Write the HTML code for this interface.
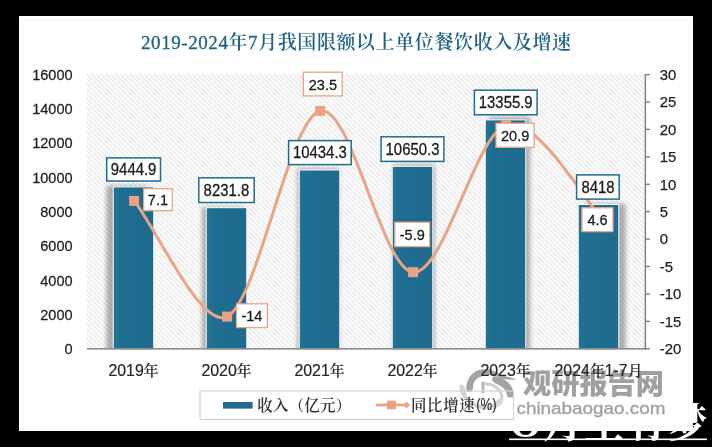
<!DOCTYPE html>
<html lang="zh-CN"><head><meta charset="utf-8"><title>2019-2024年7月我国限额以上单位餐饮收入及增速</title>
<style>html,body{margin:0;padding:0;background:#000;overflow:hidden}svg{display:block}text{font-family:"Liberation Sans","Noto Sans CJK SC",sans-serif}.ser{font-family:"Liberation Serif","Noto Serif CJK SC",serif}</style></head><body>
<svg width="712" height="447" viewBox="0 0 712 447">
<defs>
<pattern id="hatch" width="4.8" height="4.8" patternUnits="userSpaceOnUse" x="87" y="74.5"><rect width="4.8" height="4.8" fill="#ffffff"/><path d="M-1.2,-1.2 L6,6 M-1.2,3.6 L1.2,6 M3.6,-1.2 L6,1.2" stroke="#e0e0e0" stroke-width="1.1" fill="none"/></pattern>
<filter id="blur" x="-10%" y="-10%" width="120%" height="120%"><feGaussianBlur stdDeviation="2"/></filter>
<linearGradient id="bg" x1="0" y1="0" x2="1" y2="0"><stop offset="0" stop-color="#1f7596"/><stop offset="0.2" stop-color="#1f6d92"/><stop offset="1" stop-color="#1f6a8f"/></linearGradient>
<clipPath id="shclip"><rect x="80" y="60" width="570" height="286"/></clipPath>
<clipPath id="plotclip"><rect x="87.0" y="64.6" width="558.0" height="284.2"/></clipPath>
</defs>
<rect width="712" height="447" fill="#000"/>
<text class="ser" x="510" y="437.2" font-size="40" letter-spacing="1.6" fill="#fff" font-weight="700">O月至有梦</text>
<rect x="509" y="438.5" width="198" height="1.6" fill="#fff"/>
<rect x="19" y="16" width="674" height="415" fill="#fff"/>
<rect x="23.5" y="20.5" width="665" height="406" fill="none" stroke="#f6f6f6" stroke-width="1"/>
<g id="wm">
<path d="M466.7,391.0 C465.9,389.6 466.4,385.5 467.1,382.9 C467.7,380.3 468.9,377.7 470.7,375.6 C472.4,373.6 474.8,371.7 477.4,370.6 C480.0,369.5 483.3,369.1 486.3,369.3 C489.3,369.4 492.1,370.6 495.3,371.7 C498.4,372.9 501.9,374.9 505.3,376.2 C508.8,377.5 516.1,378.8 516.0,379.3 C515.8,379.8 507.3,379.8 504.2,379.3 C501.1,378.8 499.7,377.1 497.5,376.4 C495.3,375.7 493.2,375.4 490.8,375.3 C488.4,375.2 485.3,375.3 483.0,376.0 C480.6,376.6 478.4,377.6 476.8,379.0 C475.2,380.3 474.3,382.0 473.5,384.0 C472.7,386.0 473.1,389.8 472.0,391.0 C470.9,392.1 467.6,392.3 466.7,391.0 Z" fill="#a4a4a4"/>
<path d="M493.6,376.4 C495.1,375.9 499.4,377.2 502.0,378.4 C504.6,379.6 507.4,381.4 509.3,383.5 C511.1,385.5 512.6,388.5 513.2,390.7 C513.7,393.0 513.5,395.9 512.6,396.9 C511.7,397.9 508.7,397.8 507.6,396.9 C506.5,395.9 506.9,393.0 505.9,391.3 C504.9,389.6 503.6,388.1 501.4,386.5 C499.3,384.8 494.3,383.1 493.0,381.4 C491.7,379.8 492.1,376.9 493.6,376.4 Z" fill="#a4a4a4"/>
<rect x="481.5" y="381.8" width="2.9" height="11.2" fill="#b4b4b4"/>
<path d="M484.4,383.5 C485.7,383.7 489.5,383.8 491.9,384.9 C494.4,386.0 497.5,388.1 499.2,390.2 C500.9,392.3 501.9,395.1 502.0,397.4 C502.1,399.8 500.1,403.0 499.7,404.1" fill="none" stroke="#d0d0cc" stroke-width="3"/>
<path d="M459.3,385.7 C458.9,387.3 460.2,392.3 461.7,395.2 C463.2,398.1 465.8,400.9 468.4,403.0 C471.0,405.2 474.0,406.9 477.4,408.1 C480.7,409.2 485.2,409.9 488.6,409.7 C491.9,409.6 495.2,408.3 497.5,406.9 C499.8,405.6 502.2,403.3 502.5,401.9 C502.9,400.5 501.5,398.2 499.7,398.6 C498.0,398.9 494.7,403.0 491.9,404.1 C489.1,405.3 485.9,405.6 483.0,405.3 C480.0,404.9 476.6,403.6 474.0,401.9 C471.4,400.2 469.0,397.9 467.3,395.2 C465.6,392.5 465.3,387.3 463.9,385.7 C462.6,384.1 459.6,384.1 459.3,385.7 Z" fill="#d6d6d0"/>
<text x="523" y="394.2" font-size="28.2" font-weight="900" fill="#a0a0a0" font-family="'Noto Sans CJK SC',sans-serif">观研报告网</text>
<text x="516.5" y="414" font-size="17" fill="#a0a0a0" stroke="#a0a0a0" stroke-width="0.3" font-family="'DejaVu Sans',sans-serif" textLength="149" lengthAdjust="spacingAndGlyphs">chinabaogao.com</text>
</g>
<text class="ser" x="356" y="48.6" font-size="19" font-weight="600" fill="#1f6384" text-anchor="middle" textLength="430" lengthAdjust="spacing"><tspan font-weight="400" stroke="#1f6384" stroke-width="0.3">2019-2024</tspan>年<tspan font-weight="400" stroke="#1f6384" stroke-width="0.3">7</tspan>月我国限额以上单位餐饮收入及增速</text>
<rect x="86.5" y="73.8" width="558.0" height="275.0" fill="url(#hatch)"/>
<g filter="url(#blur)" opacity="0.3" transform="translate(366,236) scale(1.027,1.025) translate(-366,-236)" clip-path="url(#shclip)">
<rect x="113.2" y="186.9" width="40.6" height="161.9" fill="#000"/>
<rect x="206.2" y="207.7" width="40.6" height="141.1" fill="#000"/>
<rect x="299.2" y="170.0" width="40.6" height="178.8" fill="#000"/>
<rect x="392.2" y="166.3" width="40.6" height="182.5" fill="#000"/>
<rect x="485.2" y="119.9" width="40.6" height="228.9" fill="#000"/>
<rect x="578.2" y="204.5" width="40.6" height="144.3" fill="#000"/>
</g>
<rect x="113.2" y="186.9" width="40.6" height="162.9" fill="url(#bg)" stroke="#fff" stroke-width="1"/>
<rect x="206.2" y="207.7" width="40.6" height="142.1" fill="url(#bg)" stroke="#fff" stroke-width="1"/>
<rect x="299.2" y="170.0" width="40.6" height="179.8" fill="url(#bg)" stroke="#fff" stroke-width="1"/>
<rect x="392.2" y="166.3" width="40.6" height="183.5" fill="url(#bg)" stroke="#fff" stroke-width="1"/>
<rect x="485.2" y="119.9" width="40.6" height="229.9" fill="url(#bg)" stroke="#fff" stroke-width="1"/>
<rect x="578.2" y="204.5" width="40.6" height="145.3" fill="url(#bg)" stroke="#fff" stroke-width="1"/>
<rect x="87.0" y="348.0" width="558.0" height="1.6" fill="#8c8c8c"/>
<rect x="644.6" y="73.9" width="1.5" height="275.6" fill="#7f7f7f"/>
<rect x="645.0" y="73.9" width="5" height="1.4" fill="#7f7f7f"/>
<rect x="645.0" y="101.3" width="5" height="1.4" fill="#7f7f7f"/>
<rect x="645.0" y="128.7" width="5" height="1.4" fill="#7f7f7f"/>
<rect x="645.0" y="156.2" width="5" height="1.4" fill="#7f7f7f"/>
<rect x="645.0" y="183.6" width="5" height="1.4" fill="#7f7f7f"/>
<rect x="645.0" y="211.0" width="5" height="1.4" fill="#7f7f7f"/>
<rect x="645.0" y="238.4" width="5" height="1.4" fill="#7f7f7f"/>
<rect x="645.0" y="265.8" width="5" height="1.4" fill="#7f7f7f"/>
<rect x="645.0" y="293.3" width="5" height="1.4" fill="#7f7f7f"/>
<rect x="645.0" y="320.7" width="5" height="1.4" fill="#7f7f7f"/>
<rect x="645.0" y="348.1" width="5" height="1.4" fill="#7f7f7f"/>
<text transform="translate(72.6,354.1) scale(0.945,1)" font-size="15.4" fill="#1f1f1f" stroke="#1f1f1f" stroke-width="0.25" text-anchor="end">0</text>
<text transform="translate(72.6,319.8) scale(0.945,1)" font-size="15.4" fill="#1f1f1f" stroke="#1f1f1f" stroke-width="0.25" text-anchor="end">2000</text>
<text transform="translate(72.6,285.6) scale(0.945,1)" font-size="15.4" fill="#1f1f1f" stroke="#1f1f1f" stroke-width="0.25" text-anchor="end">4000</text>
<text transform="translate(72.6,251.3) scale(0.945,1)" font-size="15.4" fill="#1f1f1f" stroke="#1f1f1f" stroke-width="0.25" text-anchor="end">6000</text>
<text transform="translate(72.6,217.0) scale(0.945,1)" font-size="15.4" fill="#1f1f1f" stroke="#1f1f1f" stroke-width="0.25" text-anchor="end">8000</text>
<text transform="translate(72.6,182.7) scale(0.945,1)" font-size="15.4" fill="#1f1f1f" stroke="#1f1f1f" stroke-width="0.25" text-anchor="end">10000</text>
<text transform="translate(72.6,148.4) scale(0.945,1)" font-size="15.4" fill="#1f1f1f" stroke="#1f1f1f" stroke-width="0.25" text-anchor="end">12000</text>
<text transform="translate(72.6,114.2) scale(0.945,1)" font-size="15.4" fill="#1f1f1f" stroke="#1f1f1f" stroke-width="0.25" text-anchor="end">14000</text>
<text transform="translate(72.6,79.9) scale(0.945,1)" font-size="15.4" fill="#1f1f1f" stroke="#1f1f1f" stroke-width="0.25" text-anchor="end">16000</text>
<text transform="translate(659.8,79.9) scale(1.000,1)" font-size="14.9" fill="#1f1f1f" stroke="#1f1f1f" stroke-width="0.25" text-anchor="start">30</text>
<text transform="translate(659.8,107.3) scale(1.000,1)" font-size="14.9" fill="#1f1f1f" stroke="#1f1f1f" stroke-width="0.25" text-anchor="start">25</text>
<text transform="translate(659.8,134.7) scale(1.000,1)" font-size="14.9" fill="#1f1f1f" stroke="#1f1f1f" stroke-width="0.25" text-anchor="start">20</text>
<text transform="translate(659.8,162.2) scale(1.000,1)" font-size="14.9" fill="#1f1f1f" stroke="#1f1f1f" stroke-width="0.25" text-anchor="start">15</text>
<text transform="translate(659.8,189.6) scale(1.000,1)" font-size="14.9" fill="#1f1f1f" stroke="#1f1f1f" stroke-width="0.25" text-anchor="start">10</text>
<text transform="translate(659.8,217.0) scale(1.000,1)" font-size="14.9" fill="#1f1f1f" stroke="#1f1f1f" stroke-width="0.25" text-anchor="start">5</text>
<text transform="translate(659.8,244.4) scale(1.000,1)" font-size="14.9" fill="#1f1f1f" stroke="#1f1f1f" stroke-width="0.25" text-anchor="start">0</text>
<text transform="translate(659.8,271.8) scale(1.000,1)" font-size="14.9" fill="#1f1f1f" stroke="#1f1f1f" stroke-width="0.25" text-anchor="start">-5</text>
<text transform="translate(659.8,299.3) scale(1.000,1)" font-size="14.9" fill="#1f1f1f" stroke="#1f1f1f" stroke-width="0.25" text-anchor="start">-10</text>
<text transform="translate(659.8,326.7) scale(1.000,1)" font-size="14.9" fill="#1f1f1f" stroke="#1f1f1f" stroke-width="0.25" text-anchor="start">-15</text>
<text transform="translate(659.8,354.1) scale(1.000,1)" font-size="14.9" fill="#1f1f1f" stroke="#1f1f1f" stroke-width="0.25" text-anchor="start">-20</text>
<text x="133.5" y="376.4" font-size="15.9" fill="#262626" stroke="#262626" stroke-width="0.2" text-anchor="middle">2019<tspan class="ser" font-weight="500" font-size="14.8">年</tspan></text>
<text x="226.5" y="376.4" font-size="15.9" fill="#262626" stroke="#262626" stroke-width="0.2" text-anchor="middle">2020<tspan class="ser" font-weight="500" font-size="14.8">年</tspan></text>
<text x="319.5" y="376.4" font-size="15.9" fill="#262626" stroke="#262626" stroke-width="0.2" text-anchor="middle">2021<tspan class="ser" font-weight="500" font-size="14.8">年</tspan></text>
<text x="412.5" y="376.4" font-size="15.9" fill="#262626" stroke="#262626" stroke-width="0.2" text-anchor="middle">2022<tspan class="ser" font-weight="500" font-size="14.8">年</tspan></text>
<text x="505.5" y="376.4" font-size="15.9" fill="#262626" stroke="#262626" stroke-width="0.2" text-anchor="middle">2023<tspan class="ser" font-weight="500" font-size="14.8">年</tspan></text>
<text x="598.5" y="376.4" font-size="15.9" fill="#262626" stroke="#262626" stroke-width="0.2" text-anchor="middle">2024<tspan class="ser" font-weight="500" font-size="14.8">年</tspan>1-7<tspan class="ser" font-weight="500" font-size="14.8">月</tspan></text>
<path d="M134.10,200.88 C157.35,229.81 200.75,329.34 227.10,316.60 C258.10,301.61 289.10,118.35 320.10,110.95 C351.10,103.54 382.10,269.80 413.10,272.18 C444.10,274.55 475.10,134.80 506.10,125.20 C537.10,115.61 583.60,199.70 599.10,214.59" fill="none" stroke="#e9a583" stroke-width="3" stroke-linecap="round" stroke-linejoin="round"/>
<rect x="129.1" y="195.9" width="10" height="10" fill="#e9a583"/>
<rect x="222.1" y="311.6" width="10" height="10" fill="#e9a583"/>
<rect x="315.1" y="105.9" width="10" height="10" fill="#e9a583"/>
<rect x="408.1" y="267.2" width="10" height="10" fill="#e9a583"/>
<rect x="501.1" y="120.2" width="10" height="10" fill="#e9a583"/>
<rect x="594.1" y="209.6" width="10" height="10" fill="#e9a583"/>
<rect x="106.7" y="157.9" width="53.8" height="23.1" fill="#fff" stroke="#1f6c91" stroke-width="1.5"/>
<text transform="translate(133.6,175.3) scale(0.950,1)" font-size="15.7" fill="#1a1a1a" stroke="#1a1a1a" stroke-width="0.28" text-anchor="middle">9444.9</text>
<rect x="198.8" y="177.8" width="55.4" height="24.7" fill="#fff" stroke="#1f6c91" stroke-width="1.5"/>
<text transform="translate(226.4,196.0) scale(0.950,1)" font-size="15.7" fill="#1a1a1a" stroke="#1a1a1a" stroke-width="0.28" text-anchor="middle">8231.8</text>
<rect x="288.6" y="140.6" width="62.6" height="24.0" fill="#fff" stroke="#1f6c91" stroke-width="1.5"/>
<text transform="translate(319.9,158.4) scale(0.950,1)" font-size="15.7" fill="#1a1a1a" stroke="#1a1a1a" stroke-width="0.28" text-anchor="middle">10434.3</text>
<rect x="381.1" y="136.8" width="62.8" height="24.6" fill="#fff" stroke="#1f6c91" stroke-width="1.5"/>
<text transform="translate(412.5,154.9) scale(0.950,1)" font-size="15.7" fill="#1a1a1a" stroke="#1a1a1a" stroke-width="0.28" text-anchor="middle">10650.3</text>
<rect x="474.4" y="90.2" width="62.7" height="24.6" fill="#fff" stroke="#1f6c91" stroke-width="1.5"/>
<text transform="translate(505.7,108.3) scale(0.950,1)" font-size="15.7" fill="#1a1a1a" stroke="#1a1a1a" stroke-width="0.28" text-anchor="middle">13355.9</text>
<rect x="576.6" y="174.9" width="42.6" height="24.2" fill="#fff" stroke="#1f6c91" stroke-width="1.5"/>
<text transform="translate(598.0,192.9) scale(0.950,1)" font-size="15.7" fill="#1a1a1a" stroke="#1a1a1a" stroke-width="0.28" text-anchor="middle">8418</text>
<rect x="143.6" y="188.7" width="28.7" height="22.0" fill="#fff" stroke="#e9a583" stroke-width="1.3"/>
<text transform="translate(157.9,205.3) scale(0.950,1)" font-size="15.3" fill="#1a1a1a" stroke="#1a1a1a" stroke-width="0.28" text-anchor="middle">7.1</text>
<rect x="236.5" y="303.8" width="30.9" height="23.8" fill="#fff" stroke="#e9a583" stroke-width="1.3"/>
<text transform="translate(251.9,321.4) scale(0.950,1)" font-size="15.3" fill="#1a1a1a" stroke="#1a1a1a" stroke-width="0.28" text-anchor="middle">-14</text>
<rect x="303.4" y="72.2" width="38.8" height="23.7" fill="#fff" stroke="#e9a583" stroke-width="1.3"/>
<text transform="translate(322.9,89.8) scale(0.950,1)" font-size="15.3" fill="#1a1a1a" stroke="#1a1a1a" stroke-width="0.28" text-anchor="middle">23.5</text>
<rect x="394.8" y="222.2" width="34.9" height="24.4" fill="#fff" stroke="#e9a583" stroke-width="1.3"/>
<text transform="translate(412.3,240.1) scale(0.950,1)" font-size="15.3" fill="#1a1a1a" stroke="#1a1a1a" stroke-width="0.28" text-anchor="middle">-5.9</text>
<rect x="496.0" y="123.2" width="38.1" height="24.1" fill="#fff" stroke="#e9a583" stroke-width="1.3"/>
<text transform="translate(515.1,140.9) scale(0.950,1)" font-size="15.3" fill="#1a1a1a" stroke="#1a1a1a" stroke-width="0.28" text-anchor="middle">20.9</text>
<rect x="581.9" y="207.8" width="31.1" height="23.8" fill="#fff" stroke="#e9a583" stroke-width="1.3"/>
<text transform="translate(597.5,225.3) scale(0.950,1)" font-size="15.3" fill="#1a1a1a" stroke="#1a1a1a" stroke-width="0.28" text-anchor="middle">4.6</text>
<rect x="200" y="391" width="313.5" height="28.5" fill="none" stroke="#d4d4d4" stroke-width="1.2"/>
<rect x="223" y="402" width="29.6" height="6.6" fill="#1f6c91"/>
<text class="ser" x="257.3" y="410.5" font-size="15.4" font-weight="600" letter-spacing="0.3" fill="#333">收入（亿元）</text>
<rect x="375.8" y="403.6" width="32" height="2.8" fill="#e9a583"/>
<rect x="387" y="400.6" width="8.8" height="8.8" fill="#e9a583"/>
<path d="M403,405 l3.5,-3.5 l3.5,3.5 l-3.5,3.5z" fill="#e9a583"/>
<text x="411" y="410.5" font-size="15.4" fill="#333"><tspan class="ser" font-weight="600" letter-spacing="0.7">同比增速</tspan></text>
<text transform="translate(476.2,410.3) scale(0.82,1)" font-size="16" fill="#333" stroke="#333" stroke-width="0.2">(%)</text>
</svg></body></html>
